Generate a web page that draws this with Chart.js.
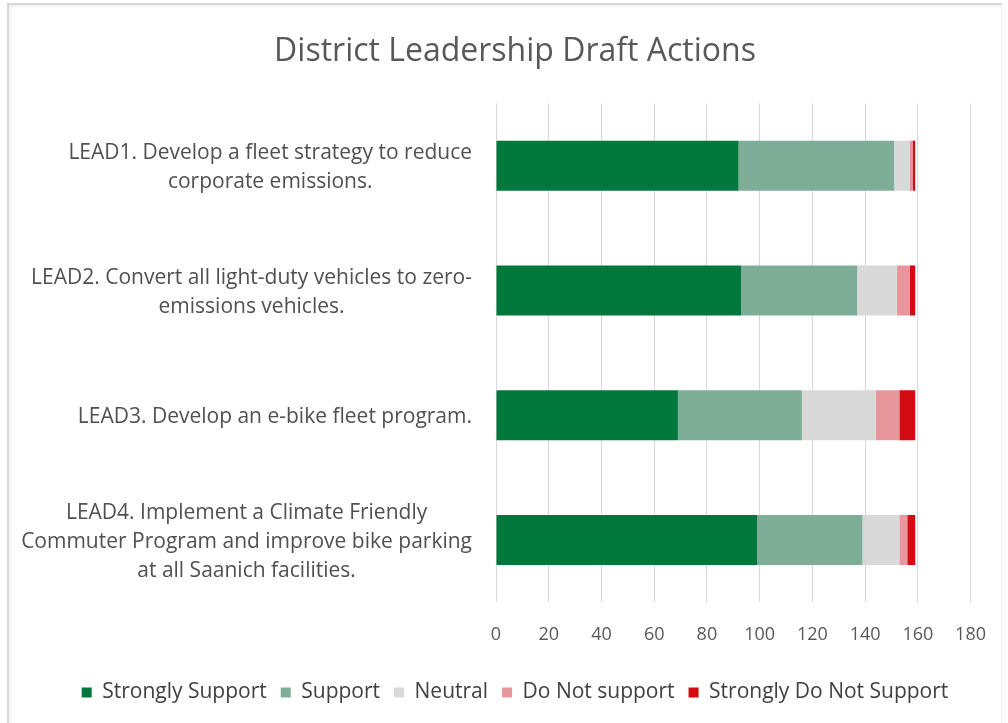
<!DOCTYPE html>
<html>
<head>
<meta charset="utf-8">
<script src="https://cdn.jsdelivr.net/npm/chart.js@4"></script>
<style>
  html, body { margin: 0; padding: 0; background: #ffffff; }
  #frame {
    position: absolute; left: 0; top: 0; width: 1008px; height: 723px;
    overflow: hidden; background: #ffffff;
  }
  #panel {
    position: absolute; left: 7px; top: 3px; width: 992px; height: 730px;
    border-top: 2px solid #d6d6d6; border-left: 2px solid #d9d9d9;
    border-right: 1px solid #eeeeee;
    box-shadow: inset 2px 2px 3px rgba(0,0,0,0.06);
  }
  canvas { position: absolute; left: 0; top: 0; }
</style>
</head>
<body>
<div id="frame">
  <div id="panel"></div>
  <canvas id="chart" width="1008" height="723"></canvas>
</div>
<script>
// Survey responses per draft action
const categories = [
  ['LEAD1. Develop a fleet strategy to reduce', 'corporate emissions.'],
  ['LEAD2. Convert all light-duty vehicles to zero-', 'emissions vehicles.'],
  ['LEAD3. Develop an e-bike fleet program.'],
  ['LEAD4. Implement a Climate Friendly', 'Commuter Program and improve bike parking', 'at all Saanich facilities.']
];
const seriesNames = ['Strongly Support', 'Support', 'Neutral', 'Do Not support', 'Strongly Do Not Support'];
const stronglySupport = [92, 93, 69, 99];
const support = [59, 44, 47, 40];
const neutral = [6, 15, 28, 14];
const doNotSupport = [1, 5, 9, 3];
const stronglyDoNotSupport = [1, 2, 6, 3];
const xTicks = [0, 20, 40, 60, 80, 100, 120, 140, 160, 180];

const colors = ['#00783c', '#7fae98', '#d9d9d9', '#e8959c', '#d40a12'];
const FONT = '"Open Sans", Lato, sans-serif';
const TEXT = '#595959';

const seriesValues = [stronglySupport, support, neutral, doNotSupport, stronglyDoNotSupport];

// Category labels: each block right-aligned to the axis, its lines centred on one another
const categoryLabels = {
  id: 'categoryLabels',
  afterDraw(chart) {
    const { ctx } = chart;
    const yScale = chart.scales.y;
    const right = chart.chartArea.left - 24;
    const lineH = 29;
    ctx.save();
    ctx.font = '21px ' + FONT;
    ctx.fillStyle = '#505050';
    ctx.textAlign = 'center';
    ctx.textBaseline = 'middle';
    categories.forEach((lines, i) => {
      const cy = yScale.getPixelForValue(i) + 2;
      const widest = Math.max(...lines.map(l => ctx.measureText(l).width));
      const cx = right - widest / 2;
      const top = cy - (lines.length - 1) * lineH / 2;
      lines.forEach((l, j) => ctx.fillText(l, cx, top + j * lineH));
    });
    ctx.restore();
  }
};

new Chart(document.getElementById('chart'), {
  type: 'bar',
  data: {
    labels: categories.map(c => c.join(' ')),
    datasets: seriesNames.map((name, i) => ({
      label: name,
      data: seriesValues[i],
      backgroundColor: colors[i],
      borderWidth: 0,
      barPercentage: 0.4,
      categoryPercentage: 1.0
    }))
  },
  options: {
    indexAxis: 'y',
    responsive: false,
    animation: false,
    layout: { padding: { left: 57, right: 35, top: 0, bottom: 10 } },
    plugins: {
      title: {
        display: true,
        text: 'District Leadership Draft Actions',
        color: TEXT,
        font: { family: FONT, size: 32, weight: 'normal' },
        padding: { top: 33, bottom: 32 }
      },
      legend: {
        position: 'bottom',
        labels: {
          color: '#404040',
          font: { family: FONT, size: 21 },
          boxWidth: 10,
          boxHeight: 10,
          padding: 14
        }
      },
      tooltip: { enabled: false }
    },
    scales: {
      x: {
        stacked: true,
        min: 0,
        max: 180,
        afterBuildTicks(scale) { scale.ticks = xTicks.map(v => ({ value: v })); },
        grid: { color: '#d9d9d9', drawTicks: false },
        border: { display: false },
        ticks: { color: TEXT, font: { family: FONT, size: 18 }, padding: 22, maxRotation: 0 }
      },
      y: {
        stacked: true,
        grid: { display: false },
        border: { display: false },
        ticks: { display: false },
        afterFit(scale) { scale.width = 439; }
      }
    }
  },
  plugins: [categoryLabels]
});
</script>
</body>
</html>
